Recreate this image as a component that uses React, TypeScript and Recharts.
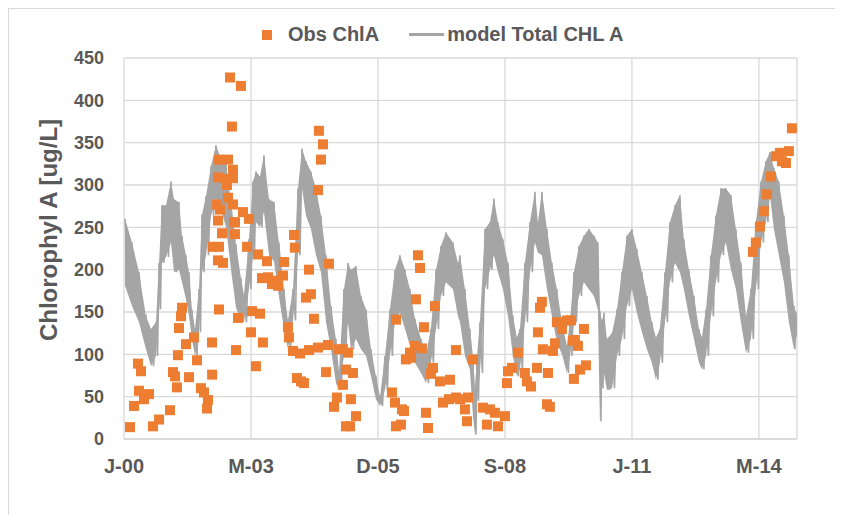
import React from 'react';
import { ComposedChart, Line, Area, Scatter, XAxis, YAxis, CartesianGrid, Label } from 'recharts';

// x values are days counted from the first tick (J-00)
const tickDays = [0, 1000, 2000, 3000, 4000, 5000];
const tickLabels = ['J-00', 'M-03', 'D-05', 'S-08', 'J-11', 'M-14'];
const yTicks = [0, 50, 100, 150, 200, 250, 300, 350, 400, 450];

// model band: day, upper edge, lower edge
const modelDays = [8, 63, 118, 173, 213, 252, 276, 299, 331, 370, 394, 433, 457, 488, 512, 535, 559, 591, 614, 646, 685, 724, 764, 803, 843, 882, 921, 945, 984, 1016, 1039, 1071, 1102, 1142, 1181, 1220, 1260, 1291, 1331, 1370, 1402, 1433, 1472, 1512, 1551, 1591, 1630, 1669, 1693, 1732, 1764, 1787, 1827, 1866, 1906, 1945, 1984, 2016, 2055, 2094, 2134, 2173, 2213, 2252, 2291, 2339, 2378, 2417, 2457, 2496, 2535, 2591, 2630, 2646, 2685, 2724, 2748, 2764, 2780, 2803, 2843, 2882, 2913, 2945, 2984, 3024, 3063, 3094, 3118, 3157, 3197, 3236, 3260, 3291, 3331, 3370, 3409, 3449, 3488, 3512, 3543, 3583, 3622, 3661, 3701, 3732, 3748, 3764, 3780, 3803, 3843, 3882, 3921, 3961, 4000, 4039, 4079, 4118, 4157, 4189, 4220, 4260, 4299, 4339, 4378, 4409, 4449, 4488, 4528, 4551, 4583, 4622, 4661, 4701, 4740, 4780, 4819, 4858, 4898, 4937, 4976, 5016, 5055, 5087, 5118, 5157, 5197, 5236, 5276, 5291];
const modelHigh = [260, 232, 197, 145, 130, 138, 208, 276, 276, 304, 283, 280, 240, 217, 197, 153, 130, 177, 265, 287, 322, 347, 331, 325, 280, 230, 190, 170, 236, 304, 316, 310, 335, 283, 280, 232, 177, 140, 177, 296, 343, 328, 316, 296, 264, 217, 157, 118, 80, 177, 208, 200, 204, 169, 153, 106, 74, 50, 98, 153, 200, 217, 200, 177, 142, 118, 100, 130, 200, 228, 244, 232, 208, 217, 177, 130, 98, 60, 98, 138, 248, 256, 284, 256, 236, 208, 145, 120, 130, 208, 256, 292, 256, 292, 248, 208, 177, 138, 110, 138, 197, 228, 240, 248, 240, 232, 150, 140, 149, 118, 125, 153, 197, 240, 248, 224, 197, 169, 138, 120, 130, 197, 256, 276, 288, 236, 200, 169, 130, 120, 153, 217, 264, 296, 296, 288, 248, 208, 145, 177, 256, 304, 328, 339, 320, 304, 264, 217, 157, 150];
const modelLow = [181, 157, 138, 106, 86, 98, 153, 208, 215, 232, 197, 200, 185, 165, 145, 118, 98, 126, 197, 217, 264, 284, 272, 250, 200, 155, 140, 138, 177, 217, 256, 250, 268, 217, 210, 169, 130, 106, 140, 217, 296, 264, 248, 217, 197, 138, 106, 66, 58, 98, 138, 106, 118, 106, 98, 74, 47, 39, 58, 98, 138, 149, 130, 110, 90, 78, 66, 90, 130, 169, 185, 177, 145, 138, 98, 82, 27, 5, 45, 78, 177, 200, 217, 197, 177, 145, 98, 74, 82, 138, 197, 232, 220, 217, 177, 145, 114, 100, 78, 98, 138, 169, 185, 177, 169, 153, 21, 60, 78, 58, 60, 98, 118, 157, 177, 149, 126, 106, 90, 70, 90, 138, 185, 208, 197, 177, 145, 118, 90, 82, 98, 145, 185, 217, 232, 200, 177, 138, 102, 118, 177, 232, 256, 288, 248, 217, 185, 138, 106, 120];

// observed ChlA samples
const obsDays = [47, 79, 110, 118, 134, 157, 197, 228, 276, 362, 386, 402, 417, 425, 433, 449, 457, 488, 512, 551, 575, 606, 630, 661, 654, 693, 694, 748, 701, 740, 780, 748, 772, 740, 866, 732, 756, 740, 803, 858, 748, 819, 858, 811, 819, 858, 874, 874, 835, 921, 850, 937, 984, 969, 898, 882, 1008, 1071, 1000, 1094, 1039, 1055, 1126, 1087, 1134, 1165, 1197, 1213, 1252, 1260, 1339, 1346, 1457, 1433, 1472, 1496, 1535, 1567, 1551, 1528, 1291, 1299, 1331, 1386, 1457, 1528, 1606, 1362, 1394, 1417, 1591, 1614, 1693, 1724, 1724, 1748, 1677, 1654, 1748, 1764, 1803, 1787, 1827, 1780, 2142, 2110, 2134, 2189, 2205, 2142, 2181, 2220, 2260, 2291, 2252, 2346, 2315, 2331, 2299, 2362, 2378, 2394, 2433, 2417, 2449, 2488, 2567, 2512, 2559, 2614, 2614, 2748, 2646, 2709, 2685, 2701, 2827, 2882, 2921, 3000, 2858, 2945, 3102, 3024, 3055, 3016, 3157, 3173, 3205, 3252, 3339, 3260, 3276, 3291, 3299, 3378, 3394, 3331, 3354, 3409, 3449, 3488, 3520, 3535, 3622, 3551, 3575, 3638, 3591, 3543, 4953, 4976, 5008, 5039, 5063, 5094, 5134, 5165, 5181, 5213, 5236, 5260];
const obsValues = [14, 39, 89, 57, 80, 47, 53, 15, 23, 34, 79, 74, 61, 99, 131, 145, 155, 112, 73, 120, 93, 60, 55, 46, 36, 114, 76, 153, 227, 211, 208, 227, 243, 258, 256, 277, 271, 309, 307, 308, 330, 330, 318, 300, 285, 277, 256, 242, 427, 417, 369, 268, 260, 227, 143, 105, 151, 148, 126, 114, 86, 218, 210, 190, 191, 183, 187, 181, 193, 209, 241, 226, 200, 167, 171, 142, 364, 348, 330, 294, 132, 120, 104, 101, 105, 108, 111, 72, 68, 66, 79, 207, 106, 106, 64, 82, 49, 38, 15, 102, 78, 47, 27, 15, 141, 55, 43, 35, 33, 15, 17, 94, 96, 110, 102, 107, 217, 202, 165, 132, 31, 13, 84, 77, 157, 68, 70, 43, 47, 49, 105, 94, 47, 49, 35, 21, 37, 35, 31, 27, 17, 15, 102, 80, 84, 66, 78, 68, 62, 84, 78, 126, 155, 162, 106, 104, 113, 41, 38, 138, 130, 140, 140, 116, 130, 117, 110, 87, 82, 71, 221, 232, 251, 269, 289, 310, 334, 338, 328, 326, 340, 367];

const ORANGE = '#ED7D31';
const GREY = '#A5A5A5';
const TEXT = '#595959';
const FONT = "'Liberation Sans', Arial, sans-serif";

// solid body of the noisy model trace
const bandData = modelDays.map((d, i) => ({ day: d, band: [modelLow[i], modelHigh[i]] }));

// jagged edges: upper edge, then lower edge halfway to the next reading
const modelData = modelDays.flatMap((d, i) => {
  const next = i < modelDays.length - 1 ? modelDays[i + 1] : d + 20;
  return [
    { day: d, model: modelHigh[i] },
    { day: (d + next) / 2, model: modelLow[i] },
  ];
});

const obsData = obsDays.map((d, i) => ({ day: d, obs: obsValues[i] }));

const Square = (props: any) => {
  const { cx, cy } = props;
  if (cx == null || cy == null) return null;
  return <rect x={cx - 5} y={cy - 5} width={10} height={10} fill={ORANGE} />;
};

const YTitle = () => {
  const x = 39;
  const y = 221;
  return (
    <text
      x={x}
      y={y}
      transform={`rotate(-90 ${x} ${y})`}
      textAnchor="middle"
      dominantBaseline="central"
      fill={TEXT}
      fontFamily={FONT}
      fontWeight="bold"
      fontSize={24}
    >
      Chlorophyl A [ug/L]
    </text>
  );
};

const App: React.FC = () => {
  return (
    <div
      style={{
        position: 'relative',
        width: 826,
        height: 520,
        borderTop: '1px solid #d9d9d9',
        borderLeft: '1px solid #d9d9d9',
        fontFamily: FONT,
      }}
    >
      {/* legend */}
      <div
        style={{
          position: 'absolute',
          top: 14,
          left: 253,
          display: 'flex',
          alignItems: 'center',
          color: TEXT,
          fontWeight: 'bold',
          fontSize: 20,
          whiteSpace: 'nowrap',
        }}
      >
        <span style={{ display: 'inline-block', width: 10, height: 10, background: ORANGE, marginRight: 16 }} />
        <span>Obs ChlA</span>
        <span style={{ display: 'inline-block', width: 35, height: 3, background: GREY, marginLeft: 30, marginRight: 3 }} />
        <span>model Total CHL A</span>
      </div>

      <ComposedChart
        width={826}
        height={500}
        margin={{ top: 49, right: 38, bottom: 30, left: 0 }}
      >
        <CartesianGrid stroke="#d9d9d9" strokeWidth={1.3} />
        <XAxis
          dataKey="day"
          type="number"
          domain={[0, 5300]}
          ticks={tickDays}
          allowDataOverflow
          tickFormatter={(v: number) => tickLabels[tickDays.indexOf(v)] ?? ''}
          tickLine={false}
          axisLine={{ stroke: '#d9d9d9', strokeWidth: 1.3 }}
          tickMargin={14}
          height={40}
          tick={{ fill: TEXT, fontSize: 20, fontWeight: 'bold', fontFamily: FONT }}
        />
        <YAxis
          type="number"
          domain={[0, 450]}
          ticks={yTicks}
          width={115}
          tickLine={false}
          axisLine={false}
          tickSize={0}
          tickMargin={20}
          tick={{ fill: TEXT, fontSize: 18, fontWeight: 'bold', fontFamily: FONT }}
        >
          <Label content={<YTitle />} />
        </YAxis>
        <Area
          data={bandData}
          dataKey="band"
          type="linear"
          stroke="none"
          fill={GREY}
          fillOpacity={1}
          dot={false}
          activeDot={false}
          isAnimationActive={false}
        />
        <Line
          data={modelData}
          dataKey="model"
          type="linear"
          stroke={GREY}
          strokeWidth={1.6}
          dot={false}
          activeDot={false}
          isAnimationActive={false}
        />
        <Scatter
          data={obsData}
          dataKey="obs"
          shape={<Square />}
          isAnimationActive={false}
        />
      </ComposedChart>
    </div>
  );
};

export default App;
